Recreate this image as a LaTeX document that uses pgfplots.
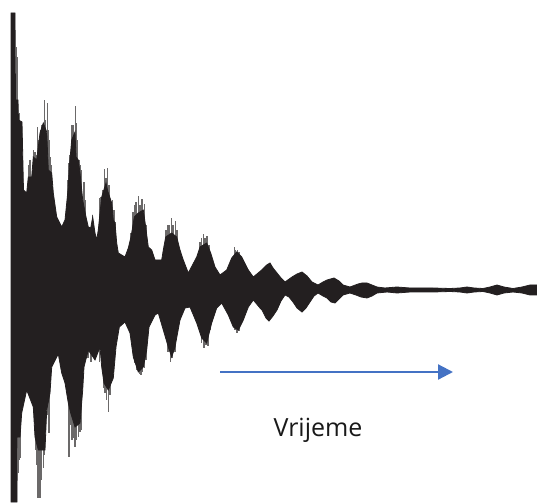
\documentclass[border=0pt]{standalone}
\usepackage{pgfplots}
\pgfplotsset{compat=1.18}
\usepackage{fontspec}
\setmainfont{Open Sans}
\usetikzlibrary{arrows.meta}
\definecolor{wave}{HTML}{231F20}
\definecolor{spike}{HTML}{6B6969}
\definecolor{arrowblue}{HTML}{4472C4}

\begin{document}
\begin{tikzpicture}
\path (0,0) rectangle (537pt,503pt);
\begin{axis}[
    at={(0,0)}, anchor=south west,
    scale only axis,
    width=537pt, height=503pt,
    xmin=0, xmax=537,
    ymin=-213, ymax=290,
    hide axis,
  ]
  % spikes sticking out of the envelope
  \addplot[ycomb, spike, line width=1.1pt, no marks] coordinates {
    (16.7,243) (17.7,233) (19.3,177) (21.7,168) (28.7,125) (30,130) (31,113)
    (33.7,140) (35,138) (36,135) (37.7,163) (38.3,150) (39,145) (41,160) (42,165)
    (44.3,190) (45,170) (47.7,187) (48.7,160) (49.5,150) (50,133) (51,125)
    (68,110) (69,127) (70,135) (72,165) (73.3,165) (75.7,184) (76.7,167)
    (77.5,150) (79,130) (80,125) (81,120) (84,108) (85,90) (92.7,75)
    (99.5,60) (100,92) (101,93) (103,100) (104.7,121) (106,112) (107.7,122)
    (109,105) (112.7,90) (114,80) (115,68)
    (131,57) (133,78) (135,85) (136,88) (138.7,94) (140,85) (142,91) (144.3,86) (146,65)
    (166,60) (167.7,65) (169,65) (171.3,72) (173,65) (175.3,69) (177,60)
    (200,48) (201.5,52) (203.3,56) (205,52) (207,54) (209,45)
    (234.3,43) (235.5,40) (237.3,40) (239,38)
    (18.3,-183) (19,-170) (20,-168) (34.3,-133) (35.5,-160) (36.5,-175) (37.7,-208)
    (38.3,-200) (39,-208) (39.8,-195) (40.7,-208) (41.7,-190) (43.3,-178) (44.5,-165)
    (49,-143) (47.5,-125) (34,-118)
    (69,-167) (69.3,-125) (70.5,-135) (72,-150) (73.5,-148) (75,-157) (76.5,-150)
    (78.3,-147) (80,-142) (81.7,-140)
    (103.3,-98) (105,-103) (106.5,-110) (108.3,-122) (110,-105) (111.7,-93)
    (135,-73) (136.5,-80) (139.3,-84) (141,-85) (142.7,-82) (144.5,-78) (146,-70)
    (168,-62) (170.7,-72) (172,-68) (173.3,-60) (175,-62)
    (201.7,-53) (204,-58) (206,-55) (208,-56) (210,-40)
    (235,-40) (237,-43) (239,-41)
    (88,-68) (91,-72) (99.5,-72)
  };
  % waveform body: upper envelope left to right, lower envelope back
  \addplot[fill=wave, draw=wave, line width=0.8pt] coordinates {
    (11,277) (15,277) (15.5,190) (18,190) (18.5,170) (22,168) (23.5,100)
    (26.7,97) (28.3,113) (31.7,113) (33.3,133) (36.7,130) (40,157) (43.3,167)
    (46.7,158) (48.3,120) (51.7,117) (53.3,97) (56.7,73) (61.7,63) (65,70)
    (68.3,103) (69.3,123) (71.7,150) (75,158) (76,133) (78.3,130) (80,117)
    (82.7,90) (86,73) (88.3,63) (90.7,62) (92.7,73) (95,57) (96.7,50) (98.3,60)
    (100,77) (101.7,93) (106,107) (108,98) (111.7,87) (113.3,70) (115,67)
    (116.7,47) (118.3,37) (125,33) (128.3,42) (131,53) (134.3,73) (138.3,77)
    (143.3,80) (145.7,63) (148.3,43) (151.7,40) (155,30) (161.7,30) (163.3,40)
    (165.7,53) (171.7,57) (176.7,53) (180,40) (183.3,30) (188.3,17) (196.7,33)
    (200,43) (206.7,47) (210.7,37) (215,23) (220,15) (226.7,20) (231.7,32)
    (236.7,38) (241.7,33) (248.3,20) (253.3,13) (261.7,20) (266.7,25) (270,27)
    (273,22) (277,17) (281,12) (285,8) (292,13) (297,16) (302,18) (307,14)
    (312,8) (318,5) (323,8) (327,10) (334,12) (339,9) (343,5) (350,3) (358,6)
    (362,7) (367,7) (372,5) (377,3) (385,2) (397,3) (410,2) (433,2) (450,1.5)
    (460,2) (467,3) (474,2) (483,1.5) (490,3) (497,5) (504,3) (513,1.5) (522,3)
    (530,5) (537,5)
    (537,-5) (530,-5) (522,-3) (513,-2) (504,-3) (497,-5) (490,-3) (483,-1.5)
    (474,-2) (467,-3) (460,-2) (450,-1.5) (433,-2) (410,-2) (397,-3) (387,-2)
    (377,-3) (372,-6) (367,-8) (361,-7) (356,-5) (350,-3) (343,-5) (339,-9)
    (335,-13) (331,-12) (327,-8) (323,-6) (318,-3) (314,-6) (310,-12) (306,-18)
    (302,-22) (297,-18) (293,-12) (289,-7) (285,-5) (281,-11) (277,-20) (273,-26)
    (269,-31) (266,-28) (262,-20) (260,-18) (253.3,-10) (248.3,-17) (243.3,-30)
    (238.3,-40) (233.3,-37) (228.3,-25) (221.7,-13) (216.7,-18) (211.7,-33)
    (206.7,-53) (201.7,-48) (196.7,-33) (190,-17) (185,-18) (180,-30) (175,-57)
    (171.7,-67) (168.3,-57) (163.3,-40) (158.3,-23) (155,-25) (149,-37)
    (146.7,-60) (143.3,-77) (138.3,-82) (133.3,-67) (130,-43) (125,-32)
    (119.3,-37) (116,-57) (113.3,-88) (108.3,-100) (104,-93) (101.7,-77)
    (100,-57) (95,-70) (88.3,-60) (84,-77) (82.7,-100) (80,-133) (75,-137)
    (70.7,-123) (68.3,-113) (65,-93) (61.7,-83) (58.3,-64) (51.7,-77) (50,-103)
    (46.7,-120) (45,-160) (38.3,-160) (35,-147) (33.3,-117) (26.7,-100)
    (21.7,-123) (20,-147) (17.3,-147) (17,-212) (11,-212)
  } -- cycle;
  % time arrow
  \addplot[arrowblue, line width=2.2pt, -{Triangle[length=15pt,width=15pt]}]
    coordinates {(220,-82) (453,-82)};
  \node[anchor=base, font=\fontsize{25}{30}\selectfont, text=black!90] at (axis cs:318,-146) {Vrijeme};
\end{axis}
\end{tikzpicture}
\end{document}
